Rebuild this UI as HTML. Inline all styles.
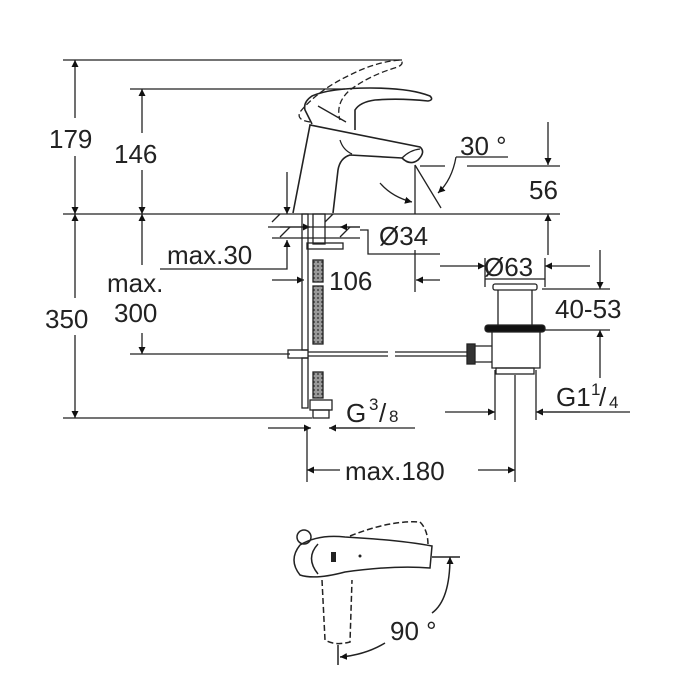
<!DOCTYPE html>
<html><head><style>
html,body{margin:0;padding:0;background:#fff;}
svg{display:block;}
text{font-family:"Liberation Sans",sans-serif;fill:#222;}
</style></head><body>
<svg width="700" height="700" viewBox="0 0 700 700" xmlns="http://www.w3.org/2000/svg">
<defs>
<marker id="a" viewBox="0 0 10 10" refX="10" refY="5" markerWidth="7" markerHeight="10" orient="auto-start-reverse" markerUnits="userSpaceOnUse"><path d="M0,0 L10,5 L0,10 z" fill="#111"/></marker>
<pattern id="h" width="4" height="4" patternUnits="userSpaceOnUse"><rect width="4" height="4" fill="#999"/><circle cx="2" cy="2" r="1" fill="#444"/></pattern>
</defs>
<g stroke="#222" stroke-width="1.3" fill="none">
<line x1="63" y1="60" x2="402" y2="60"/>
<line x1="130" y1="89" x2="345" y2="89"/>
<line x1="63" y1="214" x2="560" y2="214"/>
<line x1="130" y1="354" x2="290" y2="354"/>
<line x1="63" y1="418" x2="312" y2="418"/>
<line x1="75" y1="60" x2="75" y2="118" marker-start="url(#a)"/>
<line x1="75" y1="156" x2="75" y2="214" marker-end="url(#a)"/>
<line x1="142" y1="89" x2="142" y2="133" marker-start="url(#a)"/>
<line x1="142" y1="170" x2="142" y2="214" marker-end="url(#a)"/>
<line x1="75" y1="214" x2="75" y2="298" marker-start="url(#a)"/>
<line x1="75" y1="335" x2="75" y2="418" marker-end="url(#a)"/>
<line x1="142" y1="214" x2="142" y2="265" marker-start="url(#a)"/>
<line x1="142" y1="333" x2="142" y2="354" marker-end="url(#a)"/>
<line x1="287" y1="172" x2="287" y2="214" marker-end="url(#a)"/>
<polyline points="160,269 287,269 287,240" marker-end="url(#a)"/>
<line x1="268" y1="227" x2="360" y2="227"/>
<line x1="272" y1="238" x2="360" y2="238"/>
<path d="M272,222 l8,-8 M280,237 l10,-10 M325,222 l8,-8 M340,237 l10,-10"/>
<line x1="280" y1="227" x2="310" y2="227" marker-end="url(#a)"/>
<line x1="360" y1="227" x2="340" y2="227" marker-end="url(#a)"/>
<polyline points="360,230 368,230 368,254 440,254"/>
<line x1="272" y1="280" x2="304" y2="280" marker-end="url(#a)"/>
<line x1="440" y1="280" x2="416" y2="280" marker-end="url(#a)"/>
<line x1="415" y1="250" x2="415" y2="292"/>
<line x1="440" y1="266" x2="485" y2="266" marker-end="url(#a)"/>
<line x1="590" y1="266" x2="545" y2="266" marker-end="url(#a)"/>
<line x1="485" y1="258" x2="485" y2="287"/>
<line x1="545" y1="258" x2="545" y2="287"/>
<line x1="485" y1="279" x2="545" y2="279"/>
<line x1="600" y1="250" x2="600" y2="289" marker-end="url(#a)"/>
<line x1="600" y1="378" x2="600" y2="330" marker-end="url(#a)"/>
<line x1="542" y1="289" x2="610" y2="289"/>
<line x1="545" y1="330" x2="610" y2="330"/>
<line x1="445" y1="412" x2="495" y2="412" marker-end="url(#a)"/>
<line x1="580" y1="412" x2="536" y2="412" marker-end="url(#a)"/>
<line x1="495" y1="370" x2="495" y2="420"/>
<line x1="536" y1="370" x2="536" y2="420"/>
<line x1="540" y1="412" x2="630" y2="412"/>
<line x1="268" y1="428" x2="311" y2="428" marker-end="url(#a)"/>
<line x1="370" y1="428" x2="329" y2="428" marker-end="url(#a)"/>
<line x1="329" y1="428" x2="415" y2="428"/>
<line x1="307" y1="430" x2="307" y2="482"/>
<line x1="515" y1="375" x2="515" y2="482"/>
<line x1="307" y1="470" x2="340" y2="470" marker-start="url(#a)"/>
<line x1="478" y1="470" x2="515" y2="470" marker-end="url(#a)"/>
<line x1="548" y1="122" x2="548" y2="165" marker-end="url(#a)"/>
<line x1="548" y1="255" x2="548" y2="214" marker-end="url(#a)"/>
<line x1="467" y1="166" x2="560" y2="166"/>
<line x1="420" y1="166" x2="445" y2="166"/>
<line x1="456" y1="157" x2="508" y2="157"/>
<path d="M456,157 Q452,180 438,193" marker-end="url(#a)"/>
<path d="M380,183 Q392,197 412,202" marker-end="url(#a)"/>
<line x1="415" y1="165" x2="415" y2="214"/>
<line x1="415" y1="165" x2="441" y2="208"/>
<path d="M293,213 L310,125 L420,147 Q426,152 418,160 Q410,166 402,158 L350,155 Q340,158 338,170 L333,213" stroke-width="1.6"/>
<path d="M340,140 Q343,150 352,154"/>
<path d="M402,158 Q410,150 420,149"/>
<path d="M312,124 L305,110 Q303,102 312,96 Q330,88 370,88 Q410,88 430,96 Q434,100 428,101 Q400,98 375,100 Q360,102 355,110 L355,130" stroke-width="1.6"/>
<path d="M318,106 L346,122"/>
<path d="M310,122 Q296,120 300,112 Q318,90 350,75 Q375,62 400,60 Q405,63 398,67 Q370,75 350,90 Q335,103 340,120" stroke-dasharray="6,3"/>
<rect x="302" y="214" width="6" height="136" />
<rect x="302" y="358" width="6" height="50"/>
<rect x="313" y="214" width="12" height="30"/>
<rect x="313" y="260" width="10" height="22" fill="url(#h)"/>
<rect x="313" y="286" width="10" height="58" fill="url(#h)"/>
<rect x="313" y="372" width="10" height="26" fill="url(#h)"/>
<rect x="307" y="243" width="36" height="6"/>
<rect x="310" y="400" width="22" height="10"/>
<rect x="313" y="410" width="16" height="8"/>
<rect x="288" y="350" width="20" height="8"/>
<line x1="308" y1="352" x2="388" y2="352"/>
<line x1="308" y1="356" x2="388" y2="356"/>
<line x1="395" y1="352" x2="468" y2="352"/>
<line x1="395" y1="356" x2="468" y2="356"/>
<rect x="467" y="344" width="8" height="20" fill="#333"/>
<rect x="493" y="284" width="44" height="6" rx="2"/>
<path d="M498,290 L498,325 M532,290 L532,325"/>
<rect x="485" y="325" width="60" height="7" rx="3" fill="#111"/>
<path d="M492,332 L492,368 L540,368 L540,332"/>
<path d="M475,346 L492,346 M475,362 L492,362"/>
<rect x="496" y="368" width="38" height="6"/>
</g>
<g stroke="#222" stroke-width="1.5" fill="none">
<circle cx="304" cy="537" r="7"/>
<path d="M300,545 Q288,560 300,575 Q315,580 345,572 Q395,565 430,568 L432,546 Q400,540 345,537 Q318,534 300,545"/>
<path d="M318,544 Q305,558 318,574"/>
<path d="M350,536 Q390,520 420,522 Q428,530 428,545" stroke-dasharray="6,3"/>
<line x1="432" y1="557" x2="460" y2="557"/>
<path d="M322,580 L325,640 Q335,646 350,642 L352,580" stroke-dasharray="6,3"/>
<line x1="338" y1="645" x2="338" y2="665"/>
<path d="M450,557 Q450,600 432,613" marker-start="url(#a)"/>
<path d="M385,643 Q365,655 340,657" marker-end="url(#a)"/>
</g>
<rect x="331" y="552" width="5" height="10" fill="#222"/>
<circle cx="360" cy="556" r="1.5" fill="#222"/>
<g font-size="26">
<text x="49" y="148">179</text>
<text x="114" y="163">146</text>
<text x="45" y="328">350</text>
<text x="107" y="292">max.</text>
<text x="114" y="322">300</text>
<text x="167" y="264">max.30</text>
<text x="379" y="245">Ø34</text>
<text x="329" y="290">106</text>
<text x="484" y="276">Ø63</text>
<text x="555" y="318">40-53</text>
<text x="460" y="155">30 °</text>
<text x="529" y="199">56</text>
<text x="345" y="480">max.180</text>
<text x="390" y="640">90 °</text>
<text x="346" y="422">G</text>
<text x="369" y="410" font-size="17">3</text>
<text x="379" y="422">/</text>
<text x="389" y="422" font-size="17">8</text>
<text x="556" y="406">G1</text>
<text x="591" y="395" font-size="17">1</text>
<text x="599" y="406">/</text>
<text x="609" y="408" font-size="17">4</text>
</g>
</svg>
</body></html>
